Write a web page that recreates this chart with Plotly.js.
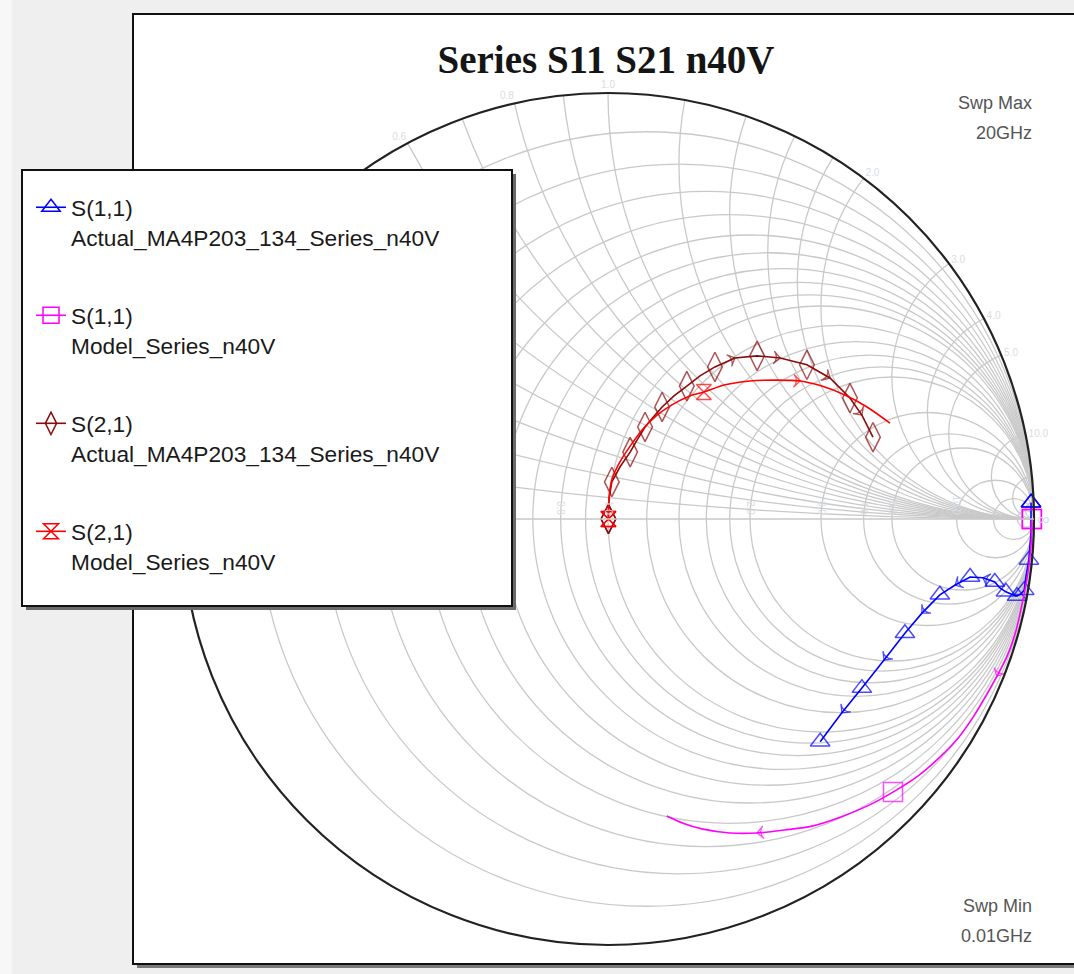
<!DOCTYPE html>
<html>
<head>
<meta charset="utf-8">
<script src="https://cdn.plot.ly/plotly-3.0.1.min.js"></script>
<style>
html,body{margin:0;padding:0;background:#efefef;}
#chart{width:1074px;height:974px;}
</style>
</head>
<body>
<div id="chart"></div>
<script>
// ---------- DATA (reflection coefficient Γ, low -> high frequency) ----------
const s11ActualRe = [0.993, 0.993, 0.988, 0.981, 0.977, 0.969, 0.960, 0.946, 0.934, 0.920, 0.908, 0.880, 0.850, 0.815, 0.779, 0.737, 0.697, 0.648, 0.596, 0.549, 0.498];
const s11ActualIm = [0.038, -0.031, -0.096, -0.136, -0.167, -0.176, -0.181, -0.176, -0.171, -0.162, -0.148, -0.138, -0.136, -0.155, -0.178, -0.221, -0.268, -0.331, -0.397, -0.455, -0.523];

const s11ModelRe = [0.995, 0.993, 0.986, 0.974, 0.958, 0.937, 0.913, 0.887, 0.857, 0.822, 0.779, 0.728, 0.669, 0.608, 0.545, 0.479, 0.415, 0.350, 0.286, 0.223, 0.176, 0.138];
const s11ModelIm = [0.000, -0.061, -0.124, -0.190, -0.261, -0.322, -0.369, -0.415, -0.465, -0.514, -0.559, -0.603, -0.641, -0.674, -0.700, -0.721, -0.730, -0.737, -0.737, -0.728, -0.714, -0.697];

const s21ActualRe = [0.001, 0.002, 0.009, 0.028, 0.052, 0.068, 0.087, 0.106, 0.127, 0.155, 0.185, 0.216, 0.251, 0.298, 0.350, 0.404, 0.467, 0.521, 0.568, 0.596, 0.622];
const s21ActualIm = [0.000, 0.045, 0.087, 0.122, 0.157, 0.185, 0.216, 0.239, 0.263, 0.289, 0.312, 0.336, 0.357, 0.378, 0.383, 0.378, 0.362, 0.331, 0.284, 0.244, 0.192];

const s21ModelRe = [0.001, 0.002, 0.009, 0.028, 0.052, 0.080, 0.113, 0.150, 0.192, 0.225, 0.275, 0.333, 0.392, 0.451, 0.502, 0.556, 0.608, 0.662];
const s21ModelIm = [0.000, 0.045, 0.092, 0.134, 0.171, 0.209, 0.242, 0.268, 0.289, 0.298, 0.315, 0.324, 0.326, 0.324, 0.312, 0.291, 0.263, 0.225];

const seriesNames = [
  'S(1,1)<br>Actual_MA4P203_134_Series_n40V',
  'S(1,1)<br>Model_Series_n40V',
  'S(2,1)<br>Actual_MA4P203_134_Series_n40V',
  'S(2,1)<br>Model_Series_n40V'
];

const gridValues = [0.1,0.2,0.3,0.4,0.5,0.6,0.7,0.8,0.9,1,1.2,1.4,1.6,1.8,2,3,4,5,10,20,50];
// which grid values carry a printed label, and how it is written
const labelledValues = {'0.2':'0.2','0.4':'0.4','0.6':'0.6','0.8':'0.8','1':'1.0','2':'2.0','3':'3.0','4':'4.0','5':'5.0','10':'10.0'};

const titleText = 'Series S11 S21 n40V';
const sweepMaxText = ['Swp Max', '20GHz'];
const sweepMinText = ['Swp Min', '0.01GHz'];

// ---------- helpers ----------
// Γ -> normalised impedance z = (1+Γ)/(1-Γ), which is what scattersmith plots
function gammaToZ(re, im) {
  const r = [], x = [];
  for (let i = 0; i < re.length; i++) {
    const d = (1 - re[i]) * (1 - re[i]) + im[i] * im[i];
    r.push((1 - re[i] * re[i] - im[i] * im[i]) / d);
    x.push((2 * im[i]) / d);
  }
  return {r, x};
}
const W = 1074, H = 974;
const px = v => v / W;
const py = v => 1 - v / H;

// label alias map: hide unlabelled grid values, reformat labelled ones (both signs)
function buildAlias() {
  const alias = {'0': '', '∞': ''};
  gridValues.forEach(v => {
    const k = String(v);
    const t = labelledValues[k] || '';
    alias[k] = t;
    alias['-' + k] = t ? '-' + t : '';
    alias['\u2212' + k] = t ? '-' + t : '';
  });
  return alias;
}
const alias = buildAlias();

function makeTraces(re, im, name, color, symbol, msize, markAt, arrowAt, shape, group) {
  const z = gammaToZ(re, im);
  const sizes = [], arrows = [];
  for (let i = 0; i < re.length; i++) {
    sizes.push(markAt(i) ? msize : 0);
    arrows.push(arrowAt(i) ? 9 : 0);
  }
  const common = {type: 'scattersmith', hoverinfo: 'skip', legendgroup: group};
  // curve with its symbols
  const main = Object.assign({}, common, {
    real: z.r, imag: z.x, name: name, showlegend: false,
    mode: 'lines+markers',
    line: {color: color, width: 1.6, shape: shape || 'linear', smoothing: 0.8},
    marker: {symbol: symbol, size: sizes, color: color, line: {color: color, width: 1.5}}
  });
  // direction arrows along the sweep
  const dir = Object.assign({}, common, {
    real: z.r, imag: z.x, showlegend: false,
    mode: 'markers',
    marker: {symbol: 'arrow-wide-open', size: arrows, color: color, angleref: 'previous', line: {color: color, width: 1.3}}
  });
  // legend entry: the sweep's first sample, drawn on top of the identical first symbol
  const key = Object.assign({}, common, {
    real: [z.r[0]], imag: [z.x[0]], name: name, showlegend: true,
    mode: 'lines+markers',
    line: {color: color, width: 1.6},
    marker: {symbol: symbol, size: msize, color: color, line: {color: color, width: 1.5}}
  });
  return [main, dir, key];
}

const traces = [].concat(
  makeTraces(s11ActualRe, s11ActualIm, seriesNames[0], '#0000ff', 'triangle-up-open', 17,
             i => i % 2 === 0, i => i % 2 === 1 && i > 10, 'linear', 'g1'),
  makeTraces(s11ModelRe, s11ModelIm, seriesNames[1], '#ff00ff', 'square-open', 19,
             i => i === 0 || i === 12, i => i === 6 || i === 17, 'spline', 'g2'),
  makeTraces(s21ActualRe, s21ActualIm, seriesNames[2], '#8b0a0a', 'diamond-tall-open', 21,
             i => i % 2 === 0, i => i % 2 === 1 && i > 11, 'linear', 'g3'),
  makeTraces(s21ModelRe, s21ModelIm, seriesNames[3], '#ff0000', 'hourglass-open', 15,
             i => i === 0 || i === 9, i => i === 13, 'spline', 'g4')
);

// ---------- layout ----------
const cx = 608, cy = 519, R = 426;
const gridColor = '#c9c9c9';
const labelFont = {family: 'Liberation Sans, Arial, sans-serif', size: 10, color: '#d5dde6'};

const shapes = [
  {type: 'rect', xref: 'paper', yref: 'paper', layer: 'below', x0: px(0), x1: px(12), y0: py(0), y1: py(974), fillcolor: '#f7f7f7', line: {width: 0}},
  {type: 'rect', xref: 'paper', yref: 'paper', layer: 'below', x0: px(137), x1: px(1090), y0: py(18), y1: py(968), fillcolor: '#7a7a7a', line: {width: 0}},
  {type: 'rect', xref: 'paper', yref: 'paper', layer: 'below', x0: px(133), x1: px(1086), y0: py(14), y1: py(964), fillcolor: '#ffffff', line: {color: '#111111', width: 2}},
  {type: 'rect', xref: 'paper', yref: 'paper', layer: 'above', x0: px(26), x1: px(516), y0: py(174), y1: py(610), fillcolor: '#6a6a6a', line: {width: 0}},
  {type: 'rect', xref: 'paper', yref: 'paper', layer: 'above', x0: px(22), x1: px(512), y0: py(170), y1: py(606), fillcolor: '#ffffff', line: {color: '#111111', width: 2}}
];

const annFont = {family: 'Liberation Sans, Arial, sans-serif', size: 18, color: '#555555'};
const annotations = [
  {text: sweepMaxText[0], x: px(1034), y: py(103)},
  {text: sweepMaxText[1], x: px(1034), y: py(133)},
  {text: sweepMinText[0], x: px(1034), y: py(906)},
  {text: sweepMinText[1], x: px(1034), y: py(936)}
].map(a => Object.assign(a, {xref: 'paper', yref: 'paper', xanchor: 'right', yanchor: 'middle', showarrow: false, font: annFont}));

const layout = {
  width: W, height: H,
  margin: {l: 0, r: 0, t: 0, b: 0},
  paper_bgcolor: '#efefef',
  showlegend: true,
  title: {
    text: titleText,
    x: px(606), xanchor: 'center', xref: 'paper',
    y: py(59), yanchor: 'middle', yref: 'paper',
    font: {family: 'Liberation Serif, Times New Roman, serif', size: 39, weight: 'bold', color: '#151515'}
  },
  smith: {
    domain: {x: [px(cx - R), px(cx + R)], y: [py(cy + R), py(cy - R)]},
    bgcolor: '#ffffff',
    realaxis: {
      tickvals: gridValues, labelalias: alias,
      gridcolor: gridColor, gridwidth: 1.3,
      showline: true, linecolor: gridColor, linewidth: 1.3,
      tickfont: labelFont, ticks: '', side: 'top', tickangle: 90
    },
    imaginaryaxis: {
      tickvals: gridValues, labelalias: alias,
      gridcolor: gridColor, gridwidth: 1.3,
      showline: true, linecolor: '#222222', linewidth: 2.2,
      tickfont: labelFont, ticks: ''
    }
  },
  legend: {
    x: px(31), xanchor: 'left',
    y: py(186), yanchor: 'top',
    bgcolor: 'rgba(0,0,0,0)', borderwidth: 0,
    font: {family: 'Liberation Sans, Arial, sans-serif', size: 22.7, color: '#1a1a1a'},
    valign: 'top',
    traceorder: 'grouped',
    tracegroupgap: 46
  },
  shapes: shapes,
  annotations: annotations
};

Plotly.newPlot('chart', traces, layout, {displayModeBar: false, staticPlot: true});
</script>
</body>
</html>
